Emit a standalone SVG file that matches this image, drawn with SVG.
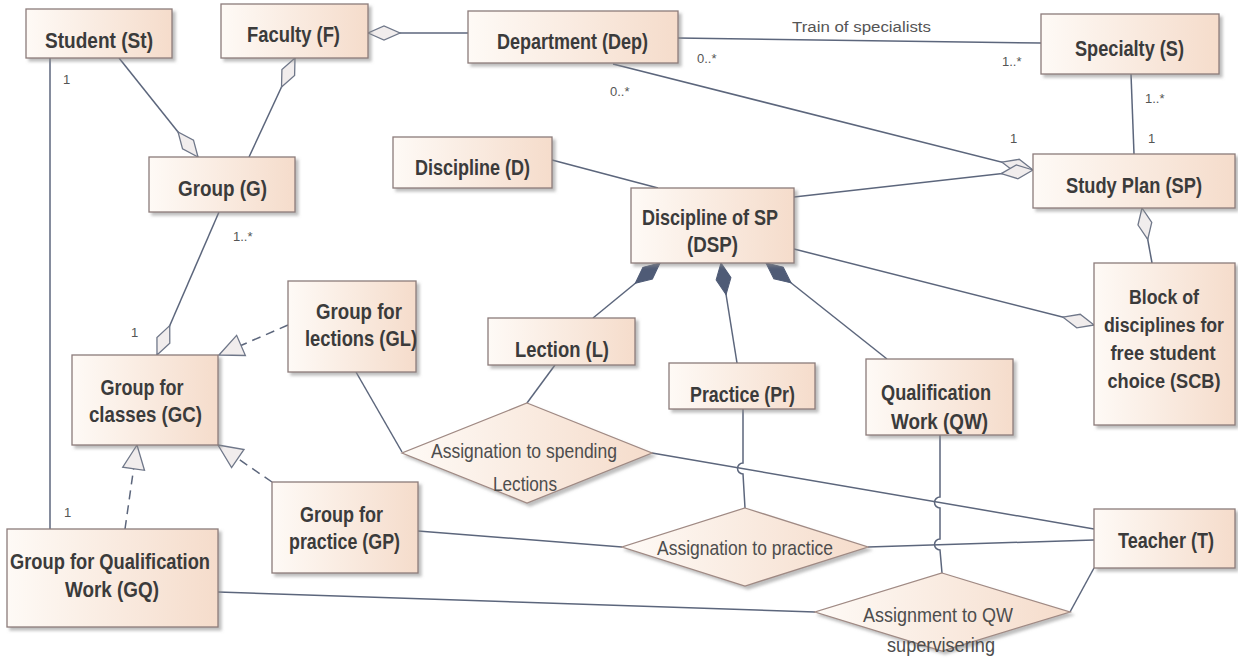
<svg xmlns="http://www.w3.org/2000/svg" width="1238" height="659" viewBox="0 0 1238 659">
<defs>
<linearGradient id="gFill" x1="0" y1="0" x2="1" y2="0">
<stop offset="0" stop-color="#fefaf6"/>
<stop offset="1" stop-color="#f5dccb"/>
</linearGradient>
<filter id="sh" x="-10%" y="-10%" width="130%" height="140%">
<feDropShadow dx="3" dy="3" stdDeviation="1.5" flood-color="#888" flood-opacity="0.55"/>
</filter>
<marker id="od" markerUnits="userSpaceOnUse" viewBox="-34 -10 36 20" refX="0" refY="0" markerWidth="36" markerHeight="20" orient="auto" overflow="visible">
<path d="M0,0 L-16,-7 L-32,0 L-16,7 Z" fill="#f1eded" stroke="#6f7789" stroke-width="1.3"/>
</marker>
<marker id="fd" markerUnits="userSpaceOnUse" viewBox="-34 -10 36 20" refX="0" refY="0" markerWidth="36" markerHeight="20" orient="auto" overflow="visible">
<path d="M0,0 L-16,-7.5 L-32,0 L-16,7.5 Z" fill="#4f5b76" stroke="#4f5b76" stroke-width="1"/>
</marker>
<marker id="tri" markerUnits="userSpaceOnUse" viewBox="-28 -14 30 28" refX="0" refY="0" markerWidth="30" markerHeight="28" orient="auto" overflow="visible">
<path d="M0,0 L-24,-11 L-24,11 Z" fill="#f1eded" stroke="#6f7789" stroke-width="1.3"/>
</marker>
</defs>
<style>
.n rect{fill:url(#gFill);stroke:#8c7c7a;stroke-width:1.3;filter:url(#sh)}
.n polygon{fill:url(#gFill);stroke:#a08a84;stroke-width:1.3;filter:url(#sh)}
.t{font-family:"Liberation Sans",Arial,sans-serif;font-weight:bold;font-size:22px;fill:#3b3b3b;text-anchor:middle}
.s{font-size:20px}
.dt{font-family:"Liberation Sans",Arial,sans-serif;font-size:21px;fill:#4d4d4d;text-anchor:middle}
.m{font-family:"Liberation Sans",Arial,sans-serif;font-size:13px;fill:#555}
#connectors path{fill:none;stroke:#5c667c;stroke-width:1.5}
#connectors .dash{stroke-dasharray:9,6}
</style>
<rect x="0" y="0" width="1238" height="659" fill="#ffffff"/>
<g id="connectors">
<path d="M119,58 L198,157" marker-end="url(#od)"/>
<path d="M249,157 L295,58" marker-end="url(#od)"/>
<path d="M468,33 L368,33" marker-end="url(#od)"/>
<path d="M678,38 L1041,43"/>
<path d="M613,64 L1033,170" marker-end="url(#od)"/>
<path d="M1131,74 L1134,154"/>
<path d="M552,160 L658,188"/>
<path d="M794,197 L1033,170" marker-end="url(#od)"/>
<path d="M1152,263 L1142,208" marker-end="url(#od)"/>
<path d="M794,249 L1094,325" marker-end="url(#od)"/>
<path d="M593,318 L660,263" marker-end="url(#fd)"/>
<path d="M737,363 L721,263" marker-end="url(#fd)"/>
<path d="M887,359 L766,263" marker-end="url(#fd)"/>
<path d="M219,212 L157,355" marker-end="url(#od)"/>
<path class="dash" d="M288,325 L219,355" marker-end="url(#tri)"/>
<path class="dash" d="M272,482 L218,445" marker-end="url(#tri)"/>
<path class="dash" d="M125,529 L137,445" marker-end="url(#tri)"/>
<path d="M50,58 L50,529"/>
<path d="M356,372 L402,452"/>
<path d="M555,365 L527,403"/>
<path d="M652,453 L1094,529"/>
<path d="M743,409 L743,463 A5.5,5.5 0 0 0 743,474 L745,508"/>
<path d="M418,531 L622,547"/>
<path d="M868,547 L1094,540"/>
<path d="M940,435 L940,497 A5.5,5.5 0 0 0 940,508 L940,539 A5.5,5.5 0 0 0 940,550 L942,573"/>
<path d="M218,592 L815,612"/>
<path d="M1070,612 L1094,568"/>
</g>
<g id="labels">
<text class="m" x="792" y="32" textLength="139" lengthAdjust="spacingAndGlyphs" style="font-size:14px">Train of specialists</text>
<text class="m" x="63" y="84">1</text>
<text class="m" x="233" y="241">1..*</text>
<text class="m" x="131" y="337">1</text>
<text class="m" x="64" y="517">1</text>
<text class="m" x="697" y="63">0..*</text>
<text class="m" x="610" y="96">0..*</text>
<text class="m" x="1002" y="66">1..*</text>
<text class="m" x="1145" y="103">1..*</text>
<text class="m" x="1010" y="143">1</text>
<text class="m" x="1148" y="143">1</text>
</g>
<g id="St" class="n"><rect x="26" y="9" width="146" height="49"/><text class="t" x="99" y="48" textLength="108" lengthAdjust="spacingAndGlyphs">Student (St)</text></g>
<g id="F" class="n"><rect x="221" y="4" width="147" height="54"/><text class="t" x="293.5" y="42" textLength="93" lengthAdjust="spacingAndGlyphs">Faculty (F)</text></g>
<g id="Dep" class="n"><rect x="468" y="11" width="210" height="52"/><text class="t" x="572.5" y="49" textLength="151" lengthAdjust="spacingAndGlyphs">Department (Dep)</text></g>
<g id="S" class="n"><rect x="1041" y="14" width="178" height="60"/><text class="t" x="1129.5" y="56" textLength="109" lengthAdjust="spacingAndGlyphs">Specialty (S)</text></g>
<g id="SP" class="n"><rect x="1033" y="154" width="202" height="54"/><text class="t" x="1134" y="193" textLength="136" lengthAdjust="spacingAndGlyphs">Study Plan (SP)</text></g>
<g id="D" class="n"><rect x="393" y="137" width="159" height="51"/><text class="t" x="472.5" y="175" textLength="115" lengthAdjust="spacingAndGlyphs">Discipline (D)</text></g>
<g id="DSP" class="n"><rect x="631" y="188" width="163" height="75"/><text class="t" x="710" y="225" textLength="136" lengthAdjust="spacingAndGlyphs">Discipline of SP</text><text class="t" x="712.5" y="252" textLength="51" lengthAdjust="spacingAndGlyphs">(DSP)</text></g>
<g id="G" class="n"><rect x="149" y="157" width="146" height="55"/><text class="t" x="222.5" y="196" textLength="89" lengthAdjust="spacingAndGlyphs">Group (G)</text></g>
<g id="GL" class="n"><rect x="288" y="281" width="128" height="91"/><text class="t" x="359" y="319" textLength="86" lengthAdjust="spacingAndGlyphs">Group for</text><text class="t" x="361" y="346" textLength="112" lengthAdjust="spacingAndGlyphs">lections (GL)</text></g>
<g id="GC" class="n"><rect x="72" y="355" width="146" height="90"/><text class="t" x="142" y="395" textLength="83" lengthAdjust="spacingAndGlyphs">Group for</text><text class="t" x="145.5" y="422" textLength="113" lengthAdjust="spacingAndGlyphs">classes (GC)</text></g>
<g id="L" class="n"><rect x="488" y="318" width="147" height="47"/><text class="t" x="562" y="357" textLength="94" lengthAdjust="spacingAndGlyphs">Lection (L)</text></g>
<g id="Pr" class="n"><rect x="669" y="363" width="146" height="46"/><text class="t" x="742.5" y="402" textLength="105" lengthAdjust="spacingAndGlyphs">Practice (Pr)</text></g>
<g id="QW" class="n"><rect x="866" y="359" width="147" height="76"/><text class="t" x="936" y="400" textLength="110" lengthAdjust="spacingAndGlyphs">Qualification</text><text class="t" x="939.5" y="429" textLength="97" lengthAdjust="spacingAndGlyphs">Work (QW)</text></g>
<g id="SCB" class="n"><rect x="1094" y="263" width="141" height="162"/><text class="t s" x="1164" y="304" textLength="70" lengthAdjust="spacingAndGlyphs">Block of</text><text class="t s" x="1164" y="332" textLength="120" lengthAdjust="spacingAndGlyphs">disciplines for</text><text class="t s" x="1163" y="360" textLength="105" lengthAdjust="spacingAndGlyphs">free student</text><text class="t s" x="1164" y="388" textLength="113" lengthAdjust="spacingAndGlyphs">choice (SCB)</text></g>
<g id="GP" class="n"><rect x="272" y="482" width="146" height="91"/><text class="t" x="341.5" y="522" textLength="83" lengthAdjust="spacingAndGlyphs">Group for</text><text class="t" x="344.5" y="549" textLength="111" lengthAdjust="spacingAndGlyphs">practice (GP)</text></g>
<g id="GQ" class="n"><rect x="7" y="529" width="211" height="98"/><text class="t" x="110" y="569" textLength="200" lengthAdjust="spacingAndGlyphs">Group for Qualification</text><text class="t" x="112" y="597" textLength="94" lengthAdjust="spacingAndGlyphs">Work (GQ)</text></g>
<g id="T" class="n"><rect x="1094" y="509" width="141" height="59"/><text class="t" x="1166" y="548" textLength="96" lengthAdjust="spacingAndGlyphs">Teacher (T)</text></g>
<g id="AL" class="n"><polygon points="527,403 652,453 527,503 402,453"/><text class="dt" x="524" y="458" textLength="186" lengthAdjust="spacingAndGlyphs">Assignation to spending</text><text class="dt" x="525" y="491" textLength="64" lengthAdjust="spacingAndGlyphs">Lections</text></g>
<g id="AP" class="n"><polygon points="745,508 868,547 745,586 622,547"/><text class="dt" x="745" y="555" textLength="176" lengthAdjust="spacingAndGlyphs">Assignation to practice</text></g>
<g id="AQ" class="n"><polygon points="942,573 1070,612 942,651 815,612"/><text class="dt" x="938" y="622" textLength="150" lengthAdjust="spacingAndGlyphs">Assignment to QW</text><text class="dt" x="941" y="652" textLength="108" lengthAdjust="spacingAndGlyphs">supervisering</text></g>
</svg>
